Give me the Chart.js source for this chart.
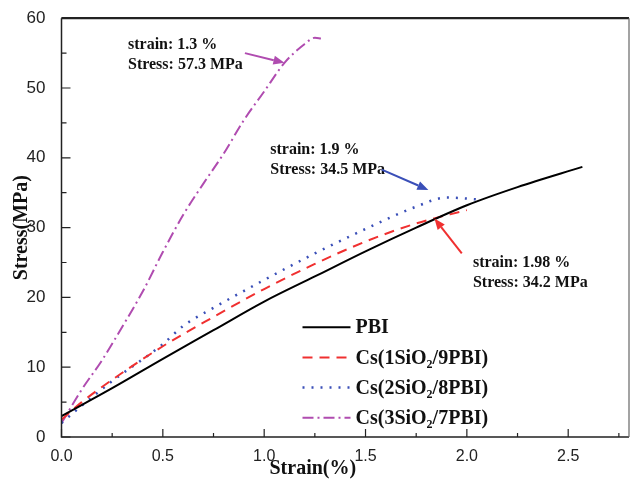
<!DOCTYPE html>
<html>
<head>
<meta charset="utf-8">
<script src="https://cdn.jsdelivr.net/npm/chart.js@4/dist/chart.umd.min.js"></script>
<style>
  html, body { margin: 0; padding: 0; background: #fff; }
  #wrap { width: 630px; height: 479px; }
</style>
</head>
<body>
<div id="wrap"><canvas id="myChart"></canvas></div>
<script>
// data
const pbiStrain = [0, 0.25, 0.5, 0.75, 1.0, 1.25, 1.5, 1.75, 2.0, 2.25, 2.57];
const pbiStress = [3.0, 7.0, 11.2, 15.3, 19.4, 23.0, 26.6, 30.0, 33.2, 35.8, 38.7];

const cs1Strain = [0, 0.1, 0.25, 0.5, 0.75, 1.0, 1.25, 1.5, 1.75, 2.0];
const cs1Stress = [2.5, 5.0, 8.2, 13.0, 17.2, 21.2, 24.8, 28.0, 30.6, 32.5];

const cs2Strain = [0, 0.1, 0.25, 0.5, 0.6, 0.75, 1.0, 1.25, 1.5, 1.75, 1.9, 2.07];
const cs2Stress = [2.0, 4.5, 8.0, 13.3, 15.9, 18.5, 22.5, 26.3, 29.8, 33.0, 34.3, 34.0];

const cs3Strain = [0, 0.1, 0.2, 0.3, 0.4, 0.5, 0.6, 0.7, 0.8, 0.9, 1.0, 1.1, 1.2, 1.25, 1.28];
const cs3Stress = [2.0, 6.8, 11.0, 15.8, 20.8, 26.5, 31.8, 36.3, 40.6, 45.4, 49.5, 53.6, 56.3, 57.2, 57.1];

const xTickValues = [0, 0.5, 1, 1.5, 2, 2.5];

const seriesNames = ['PBI', 'Cs(1SiO|2|/9PBI)', 'Cs(2SiO|2|/8PBI)', 'Cs(3SiO|2|/7PBI)'];

const noteLines = [
  ['strain: 1.3 %', 'Stress: 57.3 MPa'],
  ['strain: 1.9 %', 'Stress: 34.5 MPa'],
  ['strain: 1.98 %', 'Stress: 34.2 MPa']
];

function pts(xs, ys) {
  return xs.map(function(x, i) { return {x: x, y: ys[i]}; });
}

const serif = "'Liberation Serif', 'Times New Roman', serif";
const sans = "'Liberation Sans', Arial, sans-serif";

const styles = [
  {color: '#000000', dash: [], width: 2},
  {color: '#f03030', dash: [10, 7], width: 2},
  {color: '#3a4fb8', dash: [2, 7], width: 2.5},
  {color: '#b04cb0', dash: [11, 4, 2, 4], width: 2}
];

const data = {
  datasets: [
    {label: 'PBI', data: pts(pbiStrain, pbiStress)},
    {label: 'Cs(1SiO2/9PBI)', data: pts(cs1Strain, cs1Stress)},
    {label: 'Cs(2SiO2/8PBI)', data: pts(cs2Strain, cs2Stress)},
    {label: 'Cs(3SiO2/7PBI)', data: pts(cs3Strain, cs3Stress)}
  ].map(function(d, i) {
    return Object.assign(d, {
      showLine: true,
      pointRadius: 0,
      borderColor: styles[i].color,
      backgroundColor: styles[i].color,
      borderDash: styles[i].dash,
      borderWidth: styles[i].width,
      cubicInterpolationMode: 'monotone',
      fill: false
    });
  })
};

// notes: where text sits and where arrow points (data units)
const notes = [
  {lines: noteLines[0], tx: 0.328, ty: 55.6, from: [0.905, 55.0], to: [1.10, 53.6], color: '#b04cb0'},
  {lines: noteLines[1], tx: 1.03, ty: 40.6, from: [1.58, 38.3], to: [1.81, 35.4], color: '#3a4fb8'},
  {lines: noteLines[2], tx: 2.03, ty: 24.3, from: [1.975, 26.3], to: [1.84, 31.3], color: '#f03030'}
];

function arrow(ctx, x1, y1, x2, y2, color) {
  const a = Math.atan2(y2 - y1, x2 - x1);
  const hl = 11, hw = 4.5;
  ctx.save();
  ctx.strokeStyle = color;
  ctx.fillStyle = color;
  ctx.lineWidth = 2;
  ctx.beginPath();
  ctx.moveTo(x1, y1);
  ctx.lineTo(x2 - hl * Math.cos(a), y2 - hl * Math.sin(a));
  ctx.stroke();
  ctx.beginPath();
  ctx.moveTo(x2, y2);
  ctx.lineTo(x2 - hl * Math.cos(a) + hw * Math.sin(a), y2 - hl * Math.sin(a) - hw * Math.cos(a));
  ctx.lineTo(x2 - hl * Math.cos(a) - hw * Math.sin(a), y2 - hl * Math.sin(a) + hw * Math.cos(a));
  ctx.closePath();
  ctx.fill();
  ctx.restore();
}

// text with "|2|" drawn as subscript
function subText(ctx, str, x, y, size) {
  const parts = str.split('|');
  let cx = x;
  parts.forEach(function(p, i) {
    const sub = i % 2 === 1;
    ctx.font = 'bold ' + (sub ? Math.round(size * 0.62) : size) + 'px ' + serif;
    ctx.fillText(p, cx, sub ? y + size * 0.32 : y);
    cx += ctx.measureText(p).width;
  });
}

const framePlugin = {
  id: 'frame',
  afterDraw(chart) {
    const ctx = chart.ctx;
    const area = chart.chartArea;
    const xs = chart.scales.x, ys = chart.scales.y;
    ctx.save();
    // box
    ctx.strokeStyle = '#222';
    ctx.lineWidth = 1.5;
    ctx.beginPath();
    ctx.moveTo(area.left, area.top);
    ctx.lineTo(area.left, area.bottom);
    ctx.lineTo(area.right, area.bottom);
    ctx.stroke();
    ctx.lineWidth = 2.2;
    ctx.beginPath();
    ctx.moveTo(area.left, area.top);
    ctx.lineTo(area.right, area.top);
    ctx.stroke();
    ctx.strokeStyle = '#666';
    ctx.lineWidth = 1.2;
    ctx.beginPath();
    ctx.moveTo(area.right, area.top);
    ctx.lineTo(area.right, area.bottom);
    ctx.stroke();
    // inward ticks, major + minor
    ctx.strokeStyle = '#222';
    ctx.lineWidth = 1.2;
    ctx.beginPath();
    for (let v = 0; v <= 2.8 + 1e-9; v += 0.25) {
      const px = xs.getPixelForValue(v);
      const len = Math.abs(v / 0.5 - Math.round(v / 0.5)) < 1e-6 ? 8 : 4;
      ctx.moveTo(px, area.bottom);
      ctx.lineTo(px, area.bottom - len);
    }
    for (let v = 0; v <= 60; v += 5) {
      const py = ys.getPixelForValue(v);
      const len = v % 10 === 0 ? 9 : 5;
      ctx.moveTo(area.left, py);
      ctx.lineTo(area.left + len, py);
    }
    ctx.stroke();

    // x axis title, set a little left of centre as in the original
    ctx.fillStyle = '#111';
    ctx.textAlign = 'center';
    ctx.textBaseline = 'middle';
    ctx.font = 'bold 20px ' + serif;
    ctx.fillText('Strain(%)', xs.getPixelForValue(1.24), 469);

    // notes
    ctx.textBaseline = 'alphabetic';
    ctx.textAlign = 'left';
    ctx.font = 'bold 16px ' + serif;
    notes.forEach(function(n) {
      const x = xs.getPixelForValue(n.tx);
      const y = ys.getPixelForValue(n.ty);
      n.lines.forEach(function(t, i) { ctx.fillText(t, x, y + i * 20); });
      arrow(ctx, xs.getPixelForValue(n.from[0]), ys.getPixelForValue(n.from[1]),
            xs.getPixelForValue(n.to[0]), ys.getPixelForValue(n.to[1]), n.color);
    });

    // legend
    const lx = area.left + 241, ly = area.top + 309, gap = 30.2;
    seriesNames.forEach(function(name, i) {
      const y = ly + i * gap;
      ctx.save();
      ctx.strokeStyle = styles[i].color;
      ctx.lineWidth = styles[i].width;
      ctx.setLineDash(styles[i].dash);
      ctx.beginPath();
      ctx.moveTo(lx, y);
      ctx.lineTo(lx + 48, y);
      ctx.stroke();
      ctx.restore();
      ctx.fillStyle = '#111';
      ctx.textBaseline = 'middle';
      subText(ctx, name, lx + 53, y + 1, 20);
    });
    ctx.restore();
  }
};

const config = {
  type: 'scatter',
  data: data,
  options: {
    responsive: true,
    maintainAspectRatio: false,
    animation: false,
    layout: {padding: {top: 17, right: 1, left: 0, bottom: 0}},
    plugins: {legend: {display: false}, tooltip: {enabled: false}},
    scales: {
      x: {
        type: 'linear',
        min: 0, max: 2.8,
        grid: {display: false},
        border: {display: false},
        afterFit: function(s) { s.height = 42; },
        afterBuildTicks: function(s) {
          s.ticks = xTickValues.map(function(v) { return {value: v}; });
        },
        ticks: {
          padding: 2,
          color: '#222',
          font: {family: sans, size: 16},
          callback: function(v) { return Number(v).toFixed(1); }
        }
      },
      y: {
        min: 0, max: 60,
        grid: {display: false},
        border: {display: false},
        afterFit: function(s) { s.width = 61.5; },
        ticks: {
          stepSize: 10,
          padding: 8,
          color: '#222',
          font: {family: sans, size: 17}
        },
        title: {
          display: true,
          text: 'Stress(MPa)',
          color: '#111',
          padding: {top: 10, bottom: 0},
          font: {family: serif, size: 20, weight: 'bold'}
        }
      }
    }
  },
  plugins: [framePlugin]
};

const myChart = new Chart(document.getElementById('myChart'), config);
</script>
</body>
</html>
